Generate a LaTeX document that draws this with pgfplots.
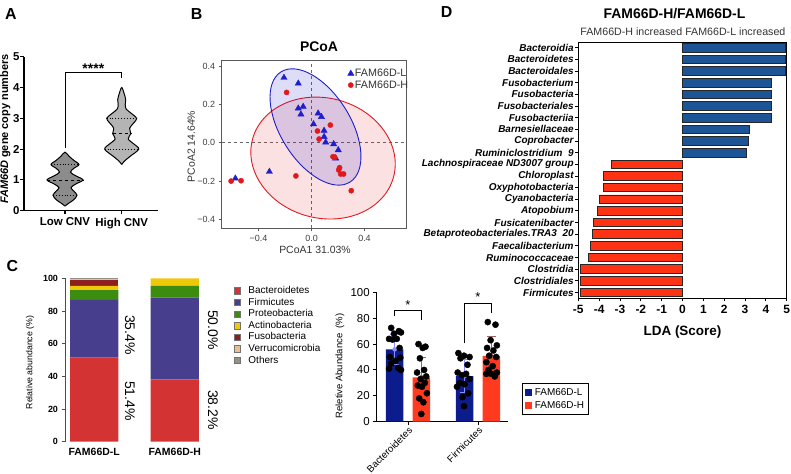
\documentclass[border=0pt]{standalone}
\usepackage{pgfplots}
\pgfplotsset{compat=1.18}
\usepackage{fontspec}
\setmainfont{Liberation Sans}
\newcommand{\fsz}[1]{\fontsize{#1}{#1}\selectfont}

\definecolor{vLow}{RGB}{140,140,140}
\definecolor{vHigh}{RGB}{180,180,180}
\definecolor{pBlue}{RGB}{30,30,205}
\definecolor{pRed}{RGB}{225,25,30}
\definecolor{cBact}{RGB}{211,52,51}
\definecolor{cFirm}{RGB}{72,62,142}
\definecolor{cProt}{RGB}{60,140,15}
\definecolor{cActi}{RGB}{240,200,10}
\definecolor{cFuso}{RGB}{140,30,30}
\definecolor{cVerr}{RGB}{235,190,145}
\definecolor{cOth}{RGB}{150,145,135}
\definecolor{bNavy}{RGB}{12,28,140}
\definecolor{bRed}{RGB}{255,58,30}
\definecolor{dBlue}{RGB}{28,84,150}
\definecolor{dRed}{RGB}{255,50,20}

\pgfplotsset{
  every axis/.append style={/pgf/number format/assume math mode=true},
  sqlegend/.style={legend image code/.code={\fill[##1] (0bp,-3.8bp) rectangle (7.6bp,3.8bp);}},
}

\begin{document}
\begin{tikzpicture}
\path[use as bounding box] (0,0) rectangle (791bp,-474bp);

% ---------- panel letters ----------
\node[font=\bfseries\fsz{16}] at (10.8bp,-14.2bp) {A};
\node[font=\bfseries\fsz{16}] at (196.7bp,-14.2bp) {B};
\node[font=\bfseries\fsz{16}] at (12.5bp,-265.8bp) {C};
\node[font=\bfseries\fsz{16}] at (446.7bp,-12.5bp) {D};

% ---------- A: violin plots ----------
\begin{axis}[at={(24bp,-210.7bp)}, anchor=south west, scale only axis,
  width=134bp, height=154bp,
  xmin=-0.723, xmax=1.64, ymin=0, ymax=5,
  axis x line=bottom, axis y line=left,
  axis line style={-, line width=1.3bp},
  xtick={0,1}, xticklabels={Low CNV,High CNV},
  ytick={0,1,2,3,4,5},
  tick align=outside, major tick length=3.5bp,
  tick style={black, line width=1.1bp},
  ticklabel style={font=\bfseries\fsz{11.5}},
  yticklabel style={inner sep=0.8bp},
  ylabel={\textbf{\textit{FAM66D}} gene copy numbers},
  ylabel style={at={(axis description cs:-0.14,0.53)}, anchor=center, font=\bfseries\fsz{11}},
  clip=false]
\addplot[fill=vLow, draw=black, line width=1bp, smooth, tension=0.55] coordinates {
 (0,0.15) (0.071,0.25) (0.150,0.35) (0.212,0.5) (0.159,0.63) (0.106,0.75) (0.194,0.87)
 (0.317,1.0) (0.194,1.13) (0.097,1.25) (0.159,1.38) (0.247,1.5) (0.159,1.63) (0.071,1.77)
 (0,1.9) (-0.071,1.77) (-0.159,1.63) (-0.247,1.5) (-0.159,1.38) (-0.097,1.25) (-0.194,1.13)
 (-0.317,1.0) (-0.194,0.87) (-0.106,0.75) (-0.159,0.63) (-0.212,0.5) (-0.150,0.35) (-0.071,0.25) (0,0.15)};
\addplot[fill=vHigh, draw=black, line width=1bp, smooth, tension=0.55] coordinates {
 (1,1.5) (1.053,1.62) (1.159,1.78) (1.300,2.0) (1.212,2.17) (1.115,2.33) (1.159,2.5)
 (1.141,2.68) (1.212,2.85) (1.265,3.0) (1.176,3.15) (1.079,3.3) (1.062,3.45) (1.071,3.6)
 (1.044,3.8) (1,4.0) (0.956,3.8) (0.929,3.6) (0.938,3.45) (0.921,3.3) (0.824,3.15)
 (0.735,3.0) (0.788,2.85) (0.859,2.68) (0.841,2.5) (0.885,2.33) (0.788,2.17) (0.700,2.0)
 (0.841,1.78) (0.947,1.62) (1,1.5)};
% medians and quartiles
\addplot[black, dashed, line width=0.8bp] coordinates {(-0.317,1.0) (0.317,1.0)};
\addplot[black, dotted, line width=0.9bp] coordinates {(-0.212,0.5) (0.212,0.5)};
\addplot[black, dotted, line width=0.9bp] coordinates {(-0.247,1.5) (0.247,1.5)};
\addplot[black, dashed, line width=0.8bp] coordinates {(0.841,2.5) (1.159,2.5)};
\addplot[black, dotted, line width=0.9bp] coordinates {(0.700,2.0) (1.300,2.0)};
\addplot[black, dotted, line width=0.9bp] coordinates {(0.735,3.0) (1.265,3.0)};
% significance bracket
\addplot[black, line width=0.9bp] coordinates {(0,2.05) (0,4.48) (1,4.48) (1,4.3)};
\node[font=\bfseries\fsz{14}] at (axis cs:0.5,4.62) {****};
\end{axis}

% ---------- B: PCoA ----------
\begin{axis}[at={(221.7bp,-228.3bp)}, anchor=south west, scale only axis,
  width=184.8bp, height=168.3bp,
  xmin=-0.678, xmax=0.717, ymin=-0.446, ymax=0.431,
  axis line style={black!65, line width=0.7bp},
  xtick={-0.4,0,0.4}, xticklabels={−0.4,0.0,0.4},
  ytick={-0.4,-0.2,0,0.2,0.4}, yticklabels={−0.4,−0.2,0.0,0.2,0.4},
  tick align=outside, xtick pos=bottom, ytick pos=left, major tick length=3bp,
  tick style={black!65, line width=0.6bp},
  ticklabel style={font=\fsz{9}, text=black!75},
  xlabel={PCoA1 31.03\%}, ylabel={PCoA2 14.64\%},
  xlabel style={at={(axis description cs:0.505,-0.129)}, anchor=center, font=\fsz{10.5}, text=black!80},
  ylabel style={at={(axis description cs:-0.165,0.486)}, anchor=center, font=\fsz{10.5}, text=black!80},
  legend style={at={(axis description cs:0.678,0.962)}, anchor=north west, draw=none, fill=none,
    font=\fsz{10.8}, text=black!80, row sep=-1.5bp, inner sep=0.5bp,
    /tikz/every odd column/.append style={column sep=-1bp}},
  legend image code/.code={\draw[#1] plot coordinates {(4bp,0bp)};},
  legend cell align=left]
\addplot[black!60, dashed, line width=0.8bp, forget plot] coordinates {(0,-0.446) (0,0.431)};
\addplot[black!60, dashed, line width=0.8bp, forget plot] coordinates {(-0.678,0) (0.717,0)};
\draw[draw=pRed, line width=0.9bp, fill=pRed, fill opacity=0.13]
  (axis cs:0.087,-0.08) ellipse [x radius=73bp, y radius=60bp, rotate=-15];
\draw[draw=pBlue, line width=0.9bp, fill=pBlue, fill opacity=0.15]
  (axis cs:0.03,0.082) ellipse [x radius=65bp, y radius=35bp, rotate=-58];
\addplot[only marks, mark=triangle*, mark size=3.6bp, color=pBlue] coordinates {
 (-0.208,0.339) (-0.100,0.309) (-0.100,0.179) (-0.063,0.188) (-0.080,0.148) (0.050,0.153)
 (0.075,0.135) (0.015,0.097) (0.095,0.063) (0.095,0.031) (0.107,0.002) (0.167,-0.007)
 (0.202,-0.038) (0.182,-0.081) (-0.318,-0.151) (-0.575,-0.186)};
\addplot[only marks, mark=*, mark size=2.6bp, color=pRed] coordinates {
 (-0.188,0.262) (0.142,0.092) (0.045,0.061) (0.057,0.019) (0.162,-0.073) (0.175,-0.076)
 (0.212,-0.130) (0.205,-0.142) (0.220,-0.163) (0.242,-0.163) (-0.118,-0.173) (0.300,-0.250)
 (-0.607,-0.200) (-0.532,-0.198)};
\legend{FAM66D-L,FAM66D-H}
\end{axis}
\node[font=\bfseries\fsz{14}] at (319bp,-46.7bp) {PCoA};

% ---------- C: stacked composition ----------
\begin{axis}[at={(65bp,-441.7bp)}, anchor=south west, scale only axis,
  width=140bp, height=163.4bp,
  xmin=-0.362, xmax=1.375, ymin=0, ymax=100,
  ybar stacked, bar width=48.3bp,
  axis lines=left, axis line style={-, black!70, line width=0.8bp},
  x axis line style={draw=none},
  xtick={0,1}, xticklabels={FAM66D-L,FAM66D-H}, xtick style={draw=none},
  xticklabel style={font=\bfseries\fsz{10.5}, yshift=1bp},
  ytick={0,20,...,100}, tick align=outside, major tick length=3.5bp,
  ytick style={black!70, line width=0.8bp},
  yticklabel style={font=\bfseries\fsz{9}},
  ylabel={Relative abundance (\%)},
  ylabel style={at={(axis description cs:-0.25,0.485)}, anchor=center, font=\fsz{8.8}},
  every axis plot post/.append style={legend image code/.code={\draw[##1, draw=black!55, line width=0.5bp] (0bp,-3.2bp) rectangle (6.4bp,3.2bp);}},
  legend style={at={(axis description cs:1.185,0.972)}, anchor=north west, draw=none, fill=none,
    font=\fsz{10}, row sep=0pt,
    nodes={inner sep=1bp, text height=7.4bp, text depth=2.2bp},
    /tikz/every odd column/.append style={column sep=6.5bp}},
  legend cell align=left,
  clip=false]
\addplot[fill=cBact, draw=none] coordinates {(0,51.4) (1,38.2)};
\addplot[fill=cFirm, draw=none] coordinates {(0,35.4) (1,50.0)};
\addplot[fill=cProt, draw=none] coordinates {(0,6.0) (1,7.1)};
\addplot[fill=cActi, draw=none] coordinates {(0,2.5) (1,4.7)};
\addplot[fill=cFuso, draw=none] coordinates {(0,3.7) (1,0)};
\addplot[fill=cVerr, draw=none] coordinates {(0,0.8) (1,0)};
\addplot[fill=cOth, draw=none] coordinates {(0,0.2) (1,0)};
\legend{Bacteroidetes,Firmicutes,Proteobacteria,Actinobacteria,Fusobacteria,Verrucomicrobia,Others}
\node[rotate=-90, font=\fsz{14}] at (axis cs:0.444,65.3) {35.4\%};
\node[rotate=-90, font=\fsz{14}] at (axis cs:0.444,24.9) {51.4\%};
\node[rotate=-90, font=\fsz{14}] at (axis cs:1.474,68.4) {50.0\%};
\node[rotate=-90, font=\fsz{14}] at (axis cs:1.474,19.4) {38.2\%};
\end{axis}

% ---------- C: bars with individual points ----------
\begin{axis}[at={(376.7bp,-421.7bp)}, anchor=south west, scale only axis,
  width=131.6bp, height=129.4bp,
  xmin=-0.447, xmax=1.433, ymin=0, ymax=100,
  axis lines=left, axis line style={-, black, line width=0.9bp},
  xtick={0,1}, xticklabels={Bacteroidetes,Firmicutes},
  xticklabel style={rotate=45, anchor=north east, font=\fsz{9.8}, inner sep=0.5bp},
  ytick={0,20,...,100}, tick align=outside, major tick length=3.5bp,
  tick style={black, line width=0.9bp},
  yticklabel style={font=\fsz{11.5}},
  ylabel={Reletive Abundance\ \ (\%)},
  ylabel style={at={(axis description cs:-0.279,0.43)}, anchor=center, font=\fsz{9.5}},
  legend style={at={(axis description cs:1.102,0.297)}, anchor=north west,
    draw=black, line width=1.1bp, font=\fsz{10}, inner sep=2.5bp, row sep=0.5bp,
    /tikz/every odd column/.append style={column sep=0.5bp}},
  legend cell align=left,
  clip=false]
\addplot[ybar, bar width=17.6bp, bar shift=0pt, fill=bNavy, draw=none, sqlegend]
  coordinates {(-0.191,55.9) (0.809,35.3)};
\addplot[ybar, bar width=17.6bp, bar shift=0pt, fill=bRed, draw=none, sqlegend]
  coordinates {(0.191,34.3) (1.191,50.8)};
\legend{FAM66D-L,FAM66D-H}
% standard deviations
\addplot[only marks, mark=none, color=blue!45!white, forget plot,
  error bars/.cd, y dir=both, y explicit,
  error bar style={line width=0.9bp, color=blue!45!white},
  error mark options={rotate=90, mark size=4.5bp, line width=0.9bp, color=blue!45!white}]
  coordinates {(-0.191,55.9) +- (0,11.6) (0.809,35.3) +- (0,12.9)};
\addplot[only marks, mark=none, color=gray!80!red, forget plot,
  error bars/.cd, y dir=both, y explicit,
  error bar style={line width=0.9bp, color=gray!75!red},
  error mark options={rotate=90, mark size=4.5bp, line width=0.9bp, color=gray!75!red}]
  coordinates {(0.191,34.3) +- (0,15.2) (1.191,50.8) +- (0,14.9)};
% individual samples
\addplot[only marks, mark=*, mark size=3.1bp, black, forget plot] coordinates {
 (-0.24,72.5) (-0.13,70) (-0.20,68) (-0.10,69) (-0.27,64) (-0.16,64) (-0.22,63.5) (-0.12,57)
 (-0.26,50) (-0.11,49.5) (-0.18,47) (-0.24,45) (-0.14,41.5) (-0.27,41) (-0.10,40)
 (0.15,60) (0.25,58) (0.21,57) (0.17,49) (0.23,40) (0.13,38) (0.26,35) (0.18,33)
 (0.24,30) (0.14,28) (0.20,27) (0.27,22) (0.16,18) (0.22,15) (0.19,6)
 (0.72,53) (0.80,51) (0.88,50) (0.75,49) (0.85,44) (0.71,38) (0.83,37) (0.77,36)
 (0.88,33) (0.74,30) (0.81,29) (0.70,27) (0.86,22) (0.78,19) (0.80,12)
 (1.14,77) (1.25,75) (1.18,63) (1.27,59) (1.13,57) (1.22,55) (1.16,51) (1.26,50)
 (1.12,46) (1.21,43) (1.15,40) (1.27,38) (1.19,37) (1.24,35) (1.12,37)};
% significance brackets
\addplot[black, line width=0.9bp, forget plot] coordinates {(-0.191,81.7) (-0.191,85.6) (0.191,85.6) (0.191,78.6)};
\addplot[black, line width=0.9bp, forget plot] coordinates {(0.809,60.5) (0.809,91.5) (1.191,91.5) (1.191,83.8)};
\node[font=\fsz{13}] at (axis cs:0,90.5) {*};
\node[font=\fsz{13}] at (axis cs:1,96.3) {*};
\end{axis}

% ---------- D: LDA scores ----------
\begin{axis}[at={(578.3bp,-298.3bp)}, anchor=south west, scale only axis,
  width=208.4bp, height=256bp,
  xmin=-5, xmax=5, ymin=-0.47, ymax=21.5, y dir=reverse,
  axis line style={black, line width=1bp},
  xtick={-5,-4,-3,-2,-1,0,1,2,3,4,5},
  xticklabels={-5,-4,-3,-2,-1,0,1,2,3,4,5},
  ytick={0,1,...,21},
  yticklabels={Bacteroidia,Bacteroidetes,Bacteroidales,Fusobacterium,Fusobacteria,
    Fusobacteriales,Fusobacteriia,Barnesiellaceae,Coprobacter,Ruminiclostridium\ \ 9,
    Lachnospiraceae ND3007 group,Chloroplast,Oxyphotobacteria,Cyanobacteria,Atopobium,
    Fusicatenibacter,Betaproteobacteriales.TRA3\ \ 20,Faecalibacterium,Ruminococcaceae,
    Clostridia,Clostridiales,Firmicutes},
  tick align=outside, xtick pos=bottom, ytick pos=left,
  major tick length=3bp, tick style={black, line width=0.9bp},
  xticklabel style={font=\bfseries\fsz{12}},
  yticklabel style={font=\bfseries\itshape\fsz{10}, inner sep=1.5bp},
  xlabel={LDA (Score)},
  xlabel style={at={(axis description cs:0.5,-0.130)}, anchor=center, font=\bfseries\fsz{13.5}}]
\addplot[xbar, bar width=8.6bp, bar shift=0pt, fill=dBlue, draw=black!85, line width=0.9bp] coordinates {
 (4.92,0) (4.92,1) (4.92,2) (4.25,3) (4.27,4) (4.27,5) (4.27,6) (3.21,7) (3.17,8) (3.05,9)};
\addplot[xbar, bar width=8.6bp, bar shift=0pt, fill=dRed, draw=black!85, line width=0.9bp] coordinates {
 (-3.42,10) (-3.78,11) (-3.81,12) (-3.99,13) (-4.09,14) (-4.25,15) (-4.33,16) (-4.41,17)
 (-4.52,18) (-4.90,19) (-4.90,20) (-4.90,21)};
\end{axis}
\node[font=\bfseries\fsz{14}] at (674.5bp,-13.3bp) {FAM66D-H/FAM66D-L};
\node[font=\fsz{10.7}, text=black!80] at (682.9bp,-31.7bp) {FAM66D-H increased FAM66D-L increased};

\end{tikzpicture}
\end{document}
